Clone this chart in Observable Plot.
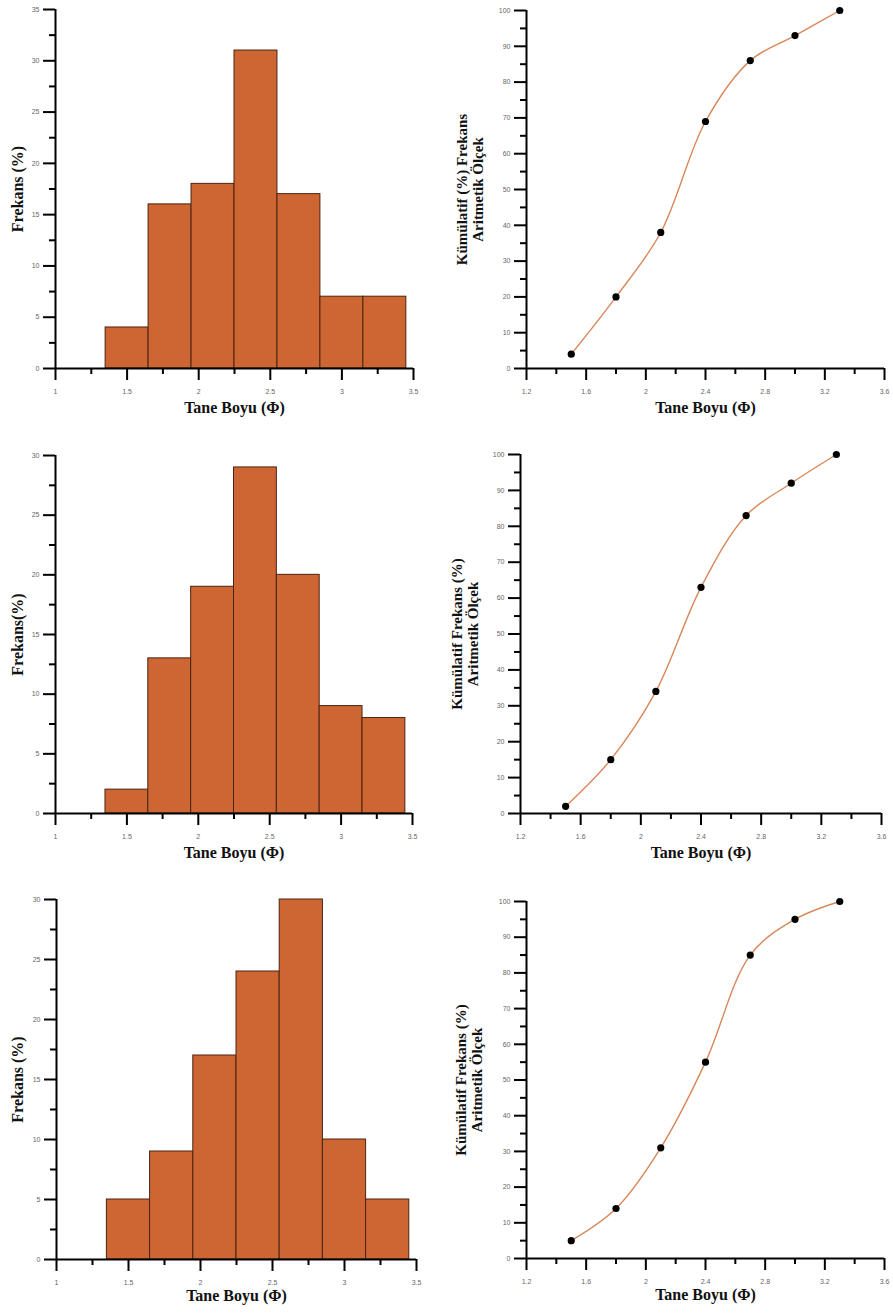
<!DOCTYPE html>
<html>
<head>
<meta charset="utf-8">
<script src="https://cdn.jsdelivr.net/npm/d3@7"></script>
<script src="https://cdn.jsdelivr.net/npm/@observablehq/plot@0.6"></script>
<style>
  html, body { margin: 0; padding: 0; background: #ffffff; }
  #page { position: relative; width: 893px; height: 1314px; background: #ffffff; overflow: hidden; }
  #page svg { position: absolute; }
</style>
</head>
<body>
<div id="page"></div>
<script>
// ---------- DATA ----------
const phiCenters = [1.5, 1.8, 2.1, 2.4, 2.7, 3.0, 3.3];
const binLo = [1.35, 1.65, 1.95, 2.25, 2.55, 2.85, 3.15];
const binHi = [1.65, 1.95, 2.25, 2.55, 2.85, 3.15, 3.45];

const freq1 = [4, 16, 18, 31, 17, 7, 7];
const freq2 = [2, 13, 19, 29, 20, 9, 8];
const freq3 = [5, 9, 17, 24, 30, 10, 5];

const cum1 = [4, 20, 38, 69, 86, 93, 100];
const cum2 = [2, 15, 34, 63, 83, 92, 100];
const cum3 = [5, 14, 31, 55, 85, 95, 100];

const histXMajor = [1, 1.5, 2, 2.5, 3, 3.5];
const histXMinor = [1.25, 1.75, 2.25, 2.75, 3.25];
const histY35Major = [0, 5, 10, 15, 20, 25, 30, 35];
const histY35Minor = [2.5, 7.5, 12.5, 17.5, 22.5, 27.5, 32.5];
const histY30Major = [0, 5, 10, 15, 20, 25, 30];
const histY30Minor = [2.5, 7.5, 12.5, 17.5, 22.5, 27.5];

const cumXMajor = [1.2, 1.6, 2, 2.4, 2.8, 3.2, 3.6];
const cumXMinor = [1.4, 1.8, 2.2, 2.6, 3.0, 3.4];
const cumYMajor = [0, 10, 20, 30, 40, 50, 60, 70, 80, 90, 100];
const cumYMinor = [5, 15, 25, 35, 45, 55, 65, 75, 85, 95];

const xTitle = "Tane Boyu (Φ)";
const histYTitles = ["Frekans (%)", "Frekans(%)", "Frekans (%)"];
const cumYTitleLine1 = ["Kümülatif (%) Frekans", "Kümülatif Frekans (%)", "Kümülatif Frekans (%)"];
const cumYTitleLine2 = ["Aritmetik Ölçek", "Aritmetik Ölçek", "Aritmetik Ölçek"];

// ---------- STYLE ----------
const barFill = "#CD6633";
const barStroke = "#4a2410";
const lineColor = "#d8875a";
const tickTextColor = "#666666";
const serif = "'Liberation Serif', 'DejaVu Serif', serif";

const page = document.getElementById("page");

function margins(p) {
  return {
    marginLeft: p.fx0 - p.left,
    marginRight: p.left + p.w - p.fx1,
    marginTop: p.fy0 - p.top,
    marginBottom: p.top + p.h - p.fy1
  };
}

function axisMarks(xMajor, xMinor, yMajor, yMinor, xmin) {
  return [
    Plot.axisY(yMinor, {tickSize: 6, tickFormat: () => "", strokeWidth: 2, label: null}),
    Plot.axisY(yMajor, {tickSize: 12, tickPadding: 4, strokeWidth: 2, fontSize: 7, fill: tickTextColor, tickFormat: d => String(d), label: null}),
    Plot.axisX(xMinor, {tickSize: 6, tickFormat: () => "", strokeWidth: 2, label: null}),
    Plot.axisX(xMajor, {tickSize: 12, tickPadding: 9, strokeWidth: 2, fontSize: 7, fill: tickTextColor, tickFormat: d => String(d), label: null}),
    Plot.ruleX([xmin], {strokeWidth: 2}),
    Plot.ruleY([0], {strokeWidth: 2})
  ];
}

function yTitle(text, dx, size) {
  return Plot.text([text], {text: d => d, frameAnchor: "left", rotate: -90, dx, textAnchor: "middle", lineAnchor: "middle",
    fontSize: size, fontWeight: "bold", fontFamily: serif, fill: "#111"});
}
function xTitleMark(dy) {
  return Plot.text([xTitle], {text: d => d, frameAnchor: "bottom", dy, textAnchor: "middle", lineAnchor: "middle",
    fontSize: 16, fontWeight: "bold", fontFamily: serif, fill: "#111"});
}

function histPanel(p) {
  const data = binLo.map((lo, i) => ({lo, hi: binHi[i], v: p.values[i]}));
  const svg = Plot.plot({
    width: p.w, height: p.h, ...margins(p),
    x: {domain: [histXMajor[0], histXMajor[histXMajor.length - 1]], inset: 0, axis: null},
    y: {domain: [0, p.yMajor[p.yMajor.length - 1]], inset: 0, axis: null},
    style: {fontFamily: "'Liberation Sans', sans-serif", background: "transparent", overflow: "visible"},
    marks: [
      Plot.rectY(data, {x1: "lo", x2: "hi", y: "v", fill: barFill, stroke: barStroke, strokeWidth: 1}),
      ...axisMarks(histXMajor, histXMinor, p.yMajor, p.yMinor, histXMajor[0]),
      yTitle(p.yTitle, p.yTitleDx, 16),
      xTitleMark(p.xTitleDy)
    ]
  });
  svg.style.left = p.left + "px";
  svg.style.top = p.top + "px";
  page.appendChild(svg);
}

function cumPanel(p) {
  const data = phiCenters.map((phi, i) => ({phi, c: p.values[i]}));
  const svg = Plot.plot({
    width: p.w, height: p.h, ...margins(p),
    x: {domain: [cumXMajor[0], cumXMajor[cumXMajor.length - 1]], inset: 0, axis: null},
    y: {domain: [0, 100], inset: 0, axis: null},
    style: {fontFamily: "'Liberation Sans', sans-serif", background: "transparent", overflow: "visible"},
    marks: [
      ...axisMarks(cumXMajor, cumXMinor, cumYMajor, cumYMinor, cumXMajor[0]),
      Plot.line(data, {x: "phi", y: "c", curve: "catmull-rom", stroke: lineColor, strokeWidth: 1.4}),
      Plot.dot(data, {x: "phi", y: "c", r: 3.6, fill: "#000", stroke: "none"}),
      yTitle(p.line1, p.l1Dx, 15),
      yTitle(p.line2, p.l2Dx, 15),
      xTitleMark(p.xTitleDy)
    ]
  });
  svg.style.left = p.left + "px";
  svg.style.top = p.top + "px";
  page.appendChild(svg);
}

// ---------- LAYOUT ----------
histPanel({left: 0, top: 0, w: 440, h: 440, fx0: 55, fx1: 413, fy0: 9, fy1: 368,
  values: freq1, yMajor: histY35Major, yMinor: histY35Minor, yTitle: histYTitles[0], yTitleDx: -38, xTitleDy: 39});
cumPanel({left: 440, top: 0, w: 453, h: 440, fx0: 526, fx1: 884, fy0: 10, fy1: 368,
  values: cum1, line1: cumYTitleLine1[0], line2: cumYTitleLine2[0], l1Dx: -64, l2Dx: -48, xTitleDy: 39});

histPanel({left: 0, top: 440, w: 440, h: 440, fx0: 55, fx1: 412, fy0: 455, fy1: 813,
  values: freq2, yMajor: histY30Major, yMinor: histY30Minor, yTitle: histYTitles[1], yTitleDx: -38, xTitleDy: 39});
cumPanel({left: 440, top: 440, w: 453, h: 440, fx0: 520, fx1: 881, fy0: 454, fy1: 813,
  values: cum2, line1: cumYTitleLine1[1], line2: cumYTitleLine2[1], l1Dx: -63, l2Dx: -47, xTitleDy: 39});

histPanel({left: 0, top: 880, w: 440, h: 434, fx0: 56, fx1: 416, fy0: 899, fy1: 1259,
  values: freq3, yMajor: histY30Major, yMinor: histY30Minor, yTitle: histYTitles[2], yTitleDx: -39, xTitleDy: 36});
cumPanel({left: 440, top: 880, w: 453, h: 434, fx0: 526, fx1: 884, fy0: 901, fy1: 1258,
  values: cum3, line1: cumYTitleLine1[2], line2: cumYTitleLine2[2], l1Dx: -65, l2Dx: -49, xTitleDy: 36});
</script>
</body>
</html>
